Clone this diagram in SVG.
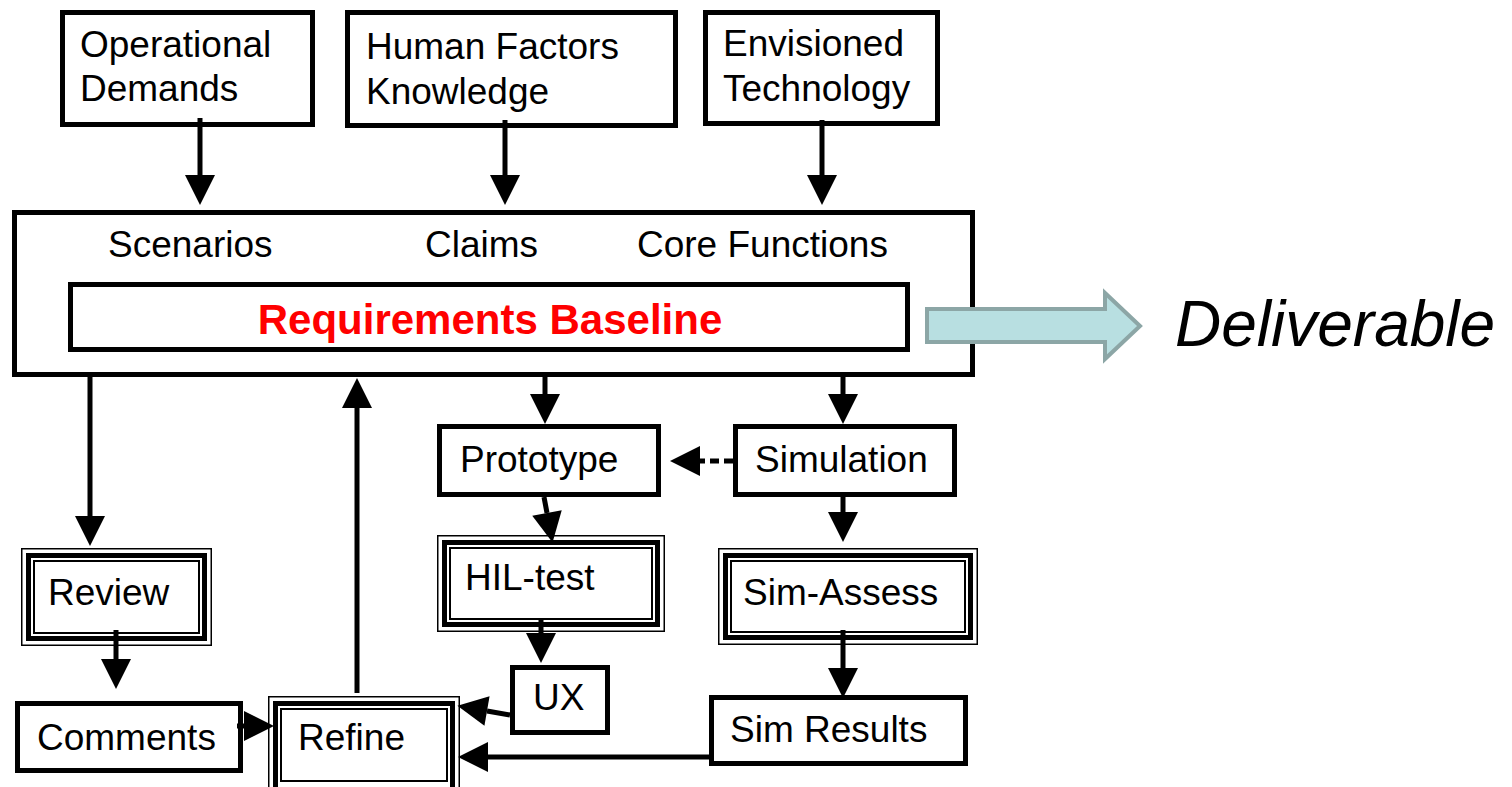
<svg xmlns="http://www.w3.org/2000/svg" width="1512" height="787" viewBox="0 0 1512 787">
<defs>
<style>
text{font-family:"Liberation Sans",Arial,sans-serif;font-size:37px;fill:#000}
.box{fill:#fff;stroke:#000;stroke-width:5}
.t1{fill:#fff;stroke:#000;stroke-width:1.5}
.t2{fill:none;stroke:#000;stroke-width:5}
.t3{fill:none;stroke:#000;stroke-width:2}
.con{fill:none;stroke:#000;stroke-width:5}
.dot{fill:none;stroke:#000;stroke-width:5;stroke-dasharray:9 5}
</style>
<marker id="ah" markerUnits="userSpaceOnUse" markerWidth="30" markerHeight="30" refX="0" refY="15" orient="auto" overflow="visible">
<path d="M0,0 L30,15 L0,30 z" fill="#000"/>
</marker>
</defs>
<rect width="1512" height="787" fill="#fff"/>

<g id="operational-demands">
<rect class="box" x="62.5" y="12.5" width="250" height="112"/>
<text x="80" y="57">Operational</text>
<text x="80" y="101">Demands</text>
</g>
<g id="human-factors">
<rect class="box" x="347.5" y="12.5" width="328" height="113"/>
<text x="366" y="59">Human Factors</text>
<text x="366" y="104">Knowledge</text>
</g>
<g id="envisioned-technology">
<rect class="box" x="705.5" y="12.5" width="232" height="111"/>
<text x="723" y="56">Envisioned</text>
<text x="723" y="101">Technology</text>
</g>

<g id="requirements-container">
<rect class="box" x="14.5" y="212.5" width="958" height="162"/>
<text x="108" y="257">Scenarios</text>
<text x="425" y="257">Claims</text>
<text x="637" y="257">Core Functions</text>
</g>
<g id="requirements-baseline">
<rect class="box" x="70.5" y="284.5" width="837" height="65"/>
<text x="490" y="334" text-anchor="middle" style="font-weight:bold;fill:#ff0000;font-size:42px">Requirements Baseline</text>
</g>

<g id="deliverable">
<polygon points="927,309 1105,309 1105,293 1140,326 1105,359 1105,342 927,342" fill="#b8dfe1" stroke="#8ca6a6" stroke-width="4"/>
<text x="1175" y="346" style="font-style:italic;font-size:64px">Deliverable</text>
</g>

<g id="prototype">
<rect class="box" x="439.5" y="426.5" width="219" height="68"/>
<text x="460" y="472">Prototype</text>
</g>
<g id="simulation">
<rect class="box" x="735.5" y="426.5" width="219" height="68"/>
<text x="755" y="472">Simulation</text>
</g>

<g id="review">
<rect class="t1" x="21.75" y="548.75" width="189.5" height="96.5"/>
<rect class="t2" x="28.5" y="555.5" width="176" height="83"/>
<rect class="t3" x="34" y="561" width="165" height="72"/>
<text x="48" y="605">Review</text>
</g>
<g id="hil-test">
<rect class="t1" x="437.75" y="535.75" width="226.5" height="95.5"/>
<rect class="t2" x="444.5" y="542.5" width="213" height="82"/>
<rect class="t3" x="450" y="548" width="202" height="71"/>
<text x="465" y="590">HIL-test</text>
</g>
<g id="sim-assess">
<rect class="t1" x="718.75" y="548.75" width="258.5" height="95.5"/>
<rect class="t2" x="725.5" y="555.5" width="245" height="82"/>
<rect class="t3" x="731" y="561" width="234" height="71"/>
<text x="743" y="605">Sim-Assess</text>
</g>

<g id="ux">
<rect class="box" x="512.5" y="667.5" width="95" height="65"/>
<text x="533" y="710">UX</text>
</g>
<g id="sim-results">
<rect class="box" x="711.5" y="697.5" width="254" height="66"/>
<text x="730" y="742">Sim Results</text>
</g>
<g id="comments">
<rect class="box" x="17.5" y="703.5" width="223" height="67"/>
<text x="37" y="750">Comments</text>
</g>
<g id="refine">
<rect class="t1" x="268.75" y="696.75" width="190.5" height="100"/>
<rect class="t2" x="275.5" y="703.5" width="177" height="90"/>
<rect class="t3" x="281" y="709" width="166" height="72"/>
<text x="298" y="750">Refine</text>
</g>

<g id="connectors">
<line class="con" x1="200" y1="118" x2="200" y2="175" marker-end="url(#ah)"/>
<line class="con" x1="505" y1="120" x2="505" y2="175" marker-end="url(#ah)"/>
<line class="con" x1="822" y1="120" x2="822" y2="175" marker-end="url(#ah)"/>
<line class="con" x1="90" y1="377" x2="90" y2="516" marker-end="url(#ah)"/>
<line class="con" x1="357" y1="693" x2="357" y2="408" marker-end="url(#ah)"/>
<line class="con" x1="545" y1="377" x2="545" y2="394" marker-end="url(#ah)"/>
<line class="con" x1="843" y1="377" x2="843" y2="394" marker-end="url(#ah)"/>
<line class="dot" x1="733" y1="461" x2="700" y2="461" marker-end="url(#ah)"/>
<line class="con" x1="544" y1="497" x2="547" y2="513" marker-end="url(#ah)"/>
<line class="con" x1="843" y1="497" x2="843" y2="512" marker-end="url(#ah)"/>
<line class="con" x1="541" y1="619" x2="541" y2="633" marker-end="url(#ah)"/>
<line class="con" x1="843" y1="630" x2="843" y2="668" marker-end="url(#ah)"/>
<line class="con" x1="116" y1="630" x2="116" y2="659" marker-end="url(#ah)"/>
<line class="con" x1="237" y1="726" x2="244" y2="726" marker-end="url(#ah)"/>
<line class="con" x1="510" y1="715" x2="487" y2="711" marker-end="url(#ah)"/>
<line class="con" x1="709" y1="757" x2="488" y2="757" marker-end="url(#ah)"/>
</g>
</svg>
